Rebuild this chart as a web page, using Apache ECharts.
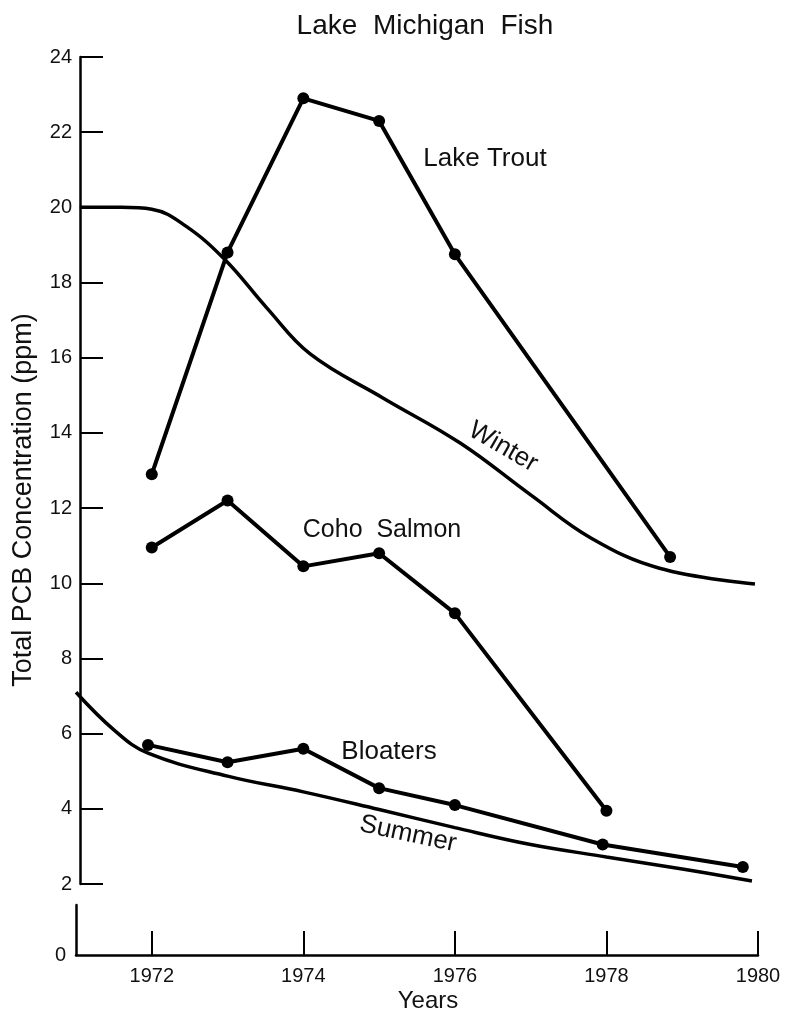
<!DOCTYPE html>
<html>
<head>
<meta charset="utf-8">
<title>Lake Michigan Fish</title>
<script src="https://cdn.jsdelivr.net/npm/echarts@6/dist/echarts.min.js"></script>
<style>
  html, body { margin: 0; padding: 0; background: #fff; }
  #chart { width: 786px; height: 1014px; }
</style>
</head>
<body>
<div id="chart"></div>
<script>
// PCB concentration (ppm) in Lake Michigan fish and the seasonal lake curves
const troutYears   = [1972, 1973, 1974, 1975, 1976, 1978.84];
const troutPCB     = [12.9, 18.8, 22.9, 22.3, 18.75, 10.7];

const cohoYears    = [1972, 1973, 1974, 1975, 1976, 1978];
const cohoPCB      = [10.95, 12.2, 10.45, 10.8, 9.2, 3.95];

const bloaterYears = [1971.95, 1973, 1974, 1975, 1976, 1977.95, 1979.8];
const bloaterPCB   = [5.7, 5.24, 5.6, 4.55, 4.1, 3.05, 2.45];

const winterYears  = [1971.05, 1971.6, 1972.0, 1972.45, 1972.97, 1973.52, 1974.09, 1975.05, 1976.07, 1977.0, 1977.8, 1978.7, 1979.96];
const winterPCB    = [20.0, 20.0, 19.95, 19.5, 18.6, 17.32, 16.1, 14.93, 13.73, 12.35, 11.2, 10.4, 9.98];

const summerYears  = [1971.0, 1971.5, 1971.95, 1973.0, 1974.0, 1975.0, 1976.0, 1977.0, 1978.0, 1979.0, 1979.92];
const summerPCB    = [7.1, 6.1, 5.48, 4.87, 4.45, 3.98, 3.5, 3.05, 2.72, 2.4, 2.08];

const yearTicks    = [1972, 1974, 1976, 1978, 1980];
const panelEdge    = [[1971.03, 21.7], [1970.94, 2]];

const pairs = (xs, ys) => xs.map((x, i) => [x, ys[i]]);

const FONT = "'Liberation Sans', Arial, Helvetica, sans-serif";
const INK = '#111';

const chart = echarts.init(document.getElementById('chart'), null, { renderer: 'canvas' });

const fishSeries = (name, xs, ys) => ({
  name, type: 'line', xAxisIndex: 0, yAxisIndex: 0,
  data: pairs(xs, ys),
  symbol: 'circle', symbolSize: 12, showSymbol: true,
  itemStyle: { color: '#000' },
  lineStyle: { color: '#000', width: 4 },
  z: 3, silent: true
});

const seasonSeries = (name, xs, ys) => ({
  name, type: 'line', xAxisIndex: 0, yAxisIndex: 0,
  data: pairs(xs, ys),
  symbol: 'none', smooth: 0.4,
  lineStyle: { color: '#000', width: 3.5 },
  z: 2, silent: true
});

const label = (text, x, y, deg, size) => ({
  type: 'text', x, y, rotation: (deg || 0) * Math.PI / 180,
  style: { text, fontSize: size || 26, fontFamily: FONT, fill: INK, align: 'center', verticalAlign: 'middle' },
  z: 10
});

chart.setOption({
  animation: false,
  backgroundColor: '#fff',
  title: {
    text: 'Lake  Michigan  Fish',
    left: 420, top: 7, textAlign: 'center',
    textStyle: { fontSize: 28, fontWeight: 'normal', fontFamily: FONT, color: INK }
  },
  grid: [
    { left: 76, top: 57, width: 682, height: 827 },
    { left: 76, top: 905, width: 682, height: 56 }
  ],
  xAxis: [
    { gridIndex: 0, type: 'value', min: 1971, max: 1980, show: false },
    {
      gridIndex: 1, type: 'value', min: 1971, max: 1980,
      splitLine: { show: false },
      axisLine: { show: true, onZero: false, lineStyle: { color: '#000', width: 2.5 } },
      axisTick: { show: true, inside: true, length: 24, customValues: yearTicks, lineStyle: { color: '#000', width: 2 } },
      axisLabel: { customValues: yearTicks, fontSize: 20, fontFamily: FONT, color: INK, margin: 11, formatter: v => String(v) },
      name: 'Years', nameLocation: 'middle', nameGap: 34,
      nameTextStyle: { fontSize: 24, fontFamily: FONT, color: INK, padding: [0, 0, 0, 22] }
    }
  ],
  yAxis: [
    {
      gridIndex: 0, type: 'value', min: 2, max: 24, interval: 2, offset: -4,
      splitLine: { show: false },
      axisLine: { show: true, onZero: false, lineStyle: { color: '#000', width: 2.5 } },
      axisTick: { show: true, inside: true, length: 23, lineStyle: { color: '#000', width: 2 } },
      axisLabel: { fontSize: 20, fontFamily: FONT, color: INK, margin: 8 }
    },
    {
      gridIndex: 1, type: 'value', min: 0, max: 1.5, interval: 1.5,
      splitLine: { show: false },
      axisLine: { show: true, onZero: false, lineStyle: { color: '#000', width: 2.5 } },
      axisTick: { show: false },
      axisLabel: { fontSize: 20, fontFamily: FONT, color: INK, margin: 10, formatter: v => (v === 0 ? '0' : '') }
    }
  ],
  series: [
    seasonSeries('Winter', winterYears, winterPCB),
    seasonSeries('Summer', summerYears, summerPCB),
    fishSeries('Lake Trout', troutYears, troutPCB),
    fishSeries('Coho Salmon', cohoYears, cohoPCB),
    fishSeries('Bloaters', bloaterYears, bloaterPCB),
    {
      name: 'edge', type: 'line', xAxisIndex: 0, yAxisIndex: 0, data: [], clip: false, silent: true,
      markLine: {
        silent: true, symbol: 'none', label: { show: false },
        lineStyle: { color: '#000', width: 2, type: 'solid' },
        data: [[{ coord: panelEdge[0] }, { coord: panelEdge[1] }]]
      }
    }
  ],
  graphic: [
    label('Total PCB Concentration (ppm)', 24, 500, 90, 27),
    label('Lake Trout', 485, 159),
    label('Winter', 503, 447, -30),
    label('Coho  Salmon', 382, 530, 0, 25),
    label('Bloaters', 389, 752),
    label('Summer', 408, 834, -12)
  ]
});
</script>
</body>
</html>
